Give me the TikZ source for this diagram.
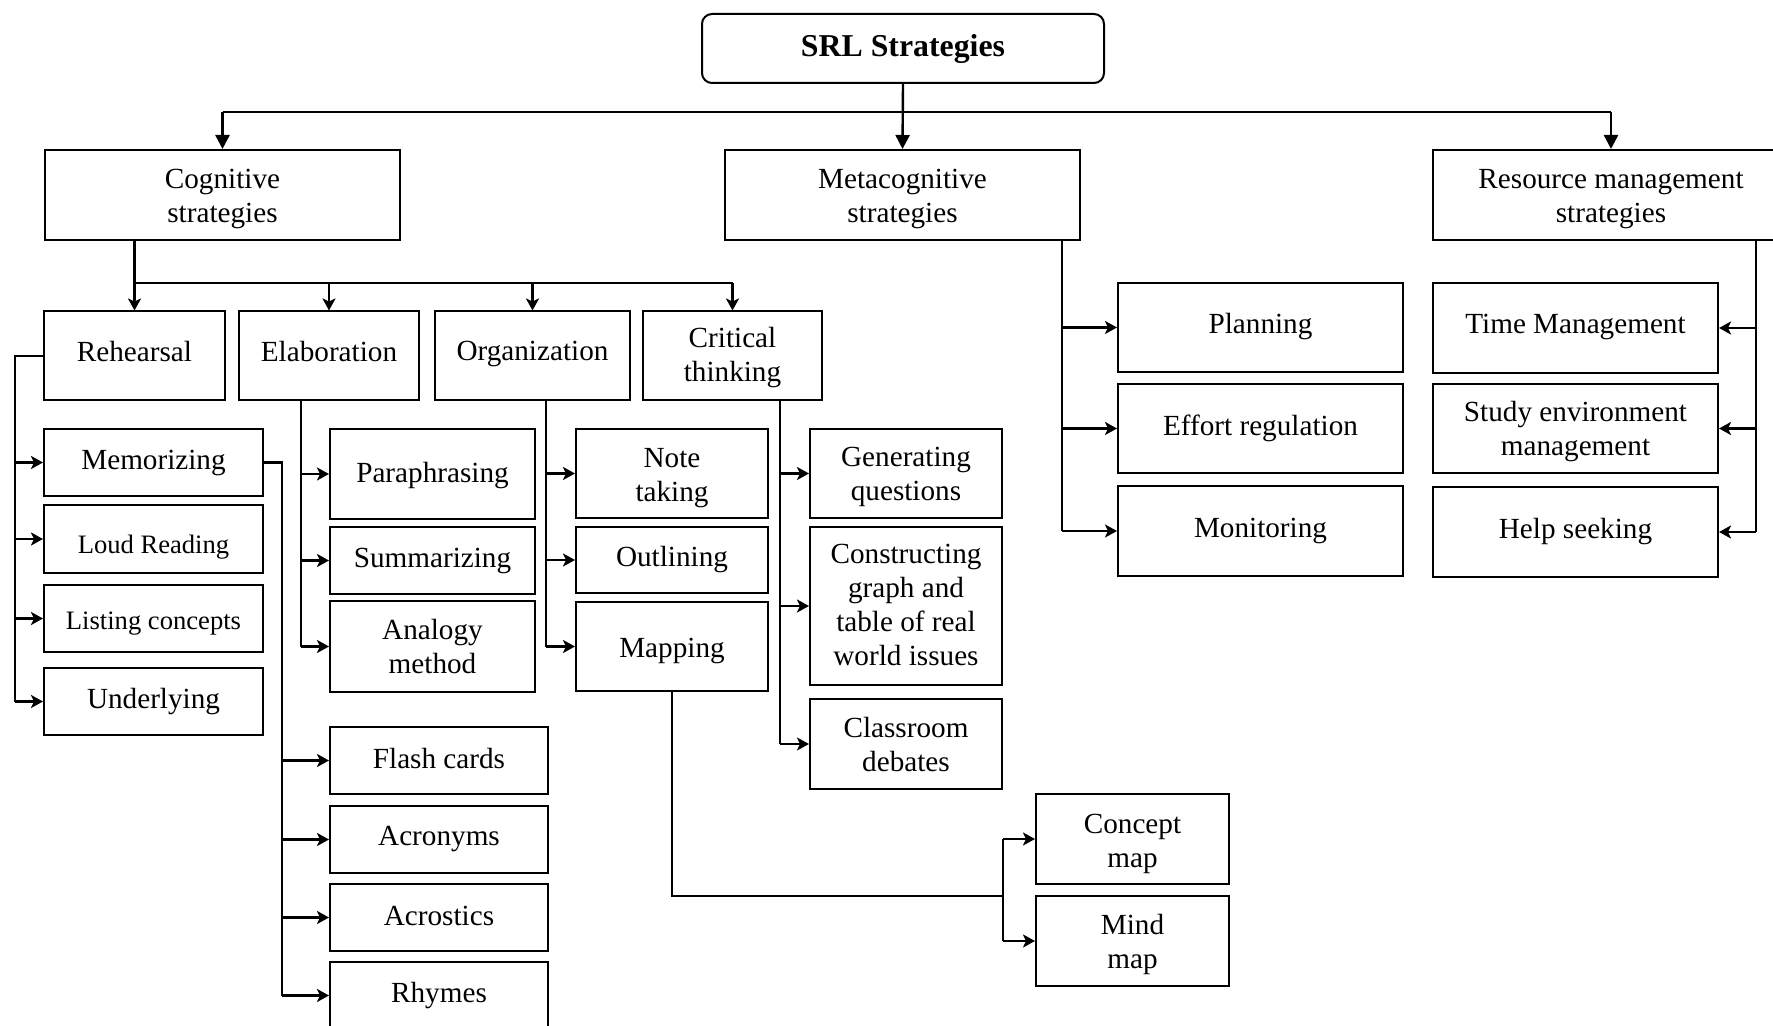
\documentclass[tikz,border=0pt]{standalone}
\usepackage{fontspec}
\setmainfont{Liberation Serif}
\usetikzlibrary{arrows.meta}
% shifted one-line and stacked labels (the outer box keeps its natural size)
\newcommand\oneln[2]{\raisebox{#1}[\height][\depth]{#2}}
\newcommand\stackln[2]{\raisebox{#1}[\height][\depth]{\begin{tabular}{@{}c@{}}#2\end{tabular}}}
\begin{document}
\begin{tikzpicture}[x=0.5pt,y=-0.5pt,
  box/.style 2 args={draw, line width=1pt, minimum width=#1*0.5pt, minimum height=#2*0.5pt,
    inner sep=0pt, align=center, font=\fontsize{14.6}{17}\selectfont},
  small/.style={font=\fontsize{13.3}{16}\selectfont},
  conn/.style={line width=1.2pt},
  arr/.style={line width=1.2pt, -{Stealth[length=6pt,width=6.5pt,inset=1.5pt]}},
  bigarr/.style={line width=1.2pt, -{Triangle[length=7pt,width=7pt]}}
]
\clip (0,0) rectangle (1773,1026);

% top level
\node[box={402}{69}, rounded corners=5pt, font=\fontsize{15.9}{18}\selectfont\bfseries] (srl) at (903,48.5) {SRL Strategies};
\node[box={355}{90}] (cog)  at (222.5,195) {\stackln{-1.7pt}{Cognitive\\strategies}};
\node[box={355}{90}] (meta) at (902.5,195) {\stackln{-1.7pt}{Metacognitive\\strategies}};
\node[box={356}{90}] (res)  at (1611,195) {\stackln{-1.7pt}{Resource management\\strategies}};

% cognitive strategies
\node[box={181}{89}] (reh)  at (134.5,356) {\oneln{2.2pt}{Rehearsal}};
\node[box={180}{89}] (ela)  at (329,356) {\oneln{2.2pt}{Elaboration}};
\node[box={195}{89}] (org)  at (532.5,356) {\oneln{1.1pt}{Organization}};
\node[box={179}{89}] (crit) at (732.5,356) {\stackln{-1pt}{Critical\\thinking}};

% rehearsal
\node[box={219}{67}] (mem)  at (153.5,462.5) {Memorizing};
\node[box={219}{67}, small] (loud) at (153.5,539) {\oneln{-4pt}{Loud Reading}};
\node[box={219}{67}, small] (list) at (153.5,618.5) {\oneln{-2.3pt}{Listing concepts}};
\node[box={219}{67}] (und)  at (153.5,701.5) {Underlying};

% memorizing
\node[box={218}{67}] (flash) at (439,760.5) {\oneln{1pt}{Flash cards}};
\node[box={218}{67}] (acro)  at (439,839.5) {Acronyms};
\node[box={218}{67}] (acst)  at (439,917.5) {\oneln{1pt}{Acrostics}};
\node[box={218}{67}] (rhy)   at (439,995.5) {Rhymes};

% elaboration
\node[box={205}{90}] (para) at (432.5,474) {\oneln{-1pt}{Paraphrasing}};
\node[box={205}{67}] (summ) at (432.5,560.5) {Summarizing};
\node[box={205}{91}] (anal) at (432.5,646.5) {\stackln{-1.6pt}{Analogy\\method}};

% organization
\node[box={192}{89}] (note) at (672,473.5) {\stackln{-2.3pt}{Note\\taking}};
\node[box={192}{66}] (outl) at (672,560) {Outlining};
\node[box={192}{89}] (mapp) at (672,646.5) {\oneln{-2.3pt}{Mapping}};

% critical thinking
\node[box={192}{89}]  (genq) at (906,473.5) {\stackln{-1.7pt}{Generating\\questions}};
\node[box={192}{158}] (cons) at (906,606) {\stackln{-1.1pt}{Constructing\\graph and\\table of real\\world issues}};
\node[box={192}{90}]  (clas) at (906,744) {\stackln{-1.6pt}{Classroom\\debates}};

% mapping
\node[box={193}{90}] (conc) at (1132.5,839) {\stackln{-2.3pt}{Concept\\map}};
\node[box={193}{90}] (mind) at (1132.5,941) {\stackln{-1.7pt}{Mind\\map}};

% metacognitive
\node[box={285}{89}] (plan) at (1260.5,327.5) {\oneln{0.5pt}{Planning}};
\node[box={285}{89}] (effo) at (1260.5,428.5) {Effort regulation};
\node[box={285}{90}] (moni) at (1260.5,531) {Monitoring};

% resource management
\node[box={285}{90}] (time) at (1575.5,328) {\oneln{0.5pt}{Time Management}};
\node[box={285}{89}] (stud) at (1575.5,428.5) {\stackln{-1.7pt}{Study environment\\management}};
\node[box={285}{90}] (help) at (1575.5,532) {Help seeking};

% bus lines and junctions
\coordinate (tbus) at (0,112);
\coordinate (cbus) at (0,283);
\coordinate (rx) at (15,0);
\coordinate (mx) at (282,0);
\coordinate (ex) at (301,0);
\coordinate (ox) at (546,0);
\coordinate (tx) at (780,0);
\coordinate (jx) at (1003,0);
\coordinate (my) at (0,896);
\coordinate (mlx) at (1062,0);
\coordinate (rlx) at (1756,0);

% top level connectors
\draw[conn] (cog.north |- tbus) -- (res.north |- tbus);
\draw[bigarr] (srl.south) -- (meta.north);
\draw[bigarr] (cog.north |- tbus) -- (cog.north);
\draw[bigarr] (res.north |- tbus) -- (res.north);

% cognitive connectors
\draw[conn] (cog.south -| reh) -- (reh |- cbus) -- (crit |- cbus);
\foreach \n in {reh,ela,org,crit} \draw[arr] (\n |- cbus) -- (\n.north);

% rehearsal connectors
\draw[conn] (reh.west) -- (reh.west -| rx) -- (und.west -| rx);
\foreach \n in {mem,loud,list,und} \draw[arr] (\n.west -| rx) -- (\n.west);

% memorizing connectors
\draw[conn] (mem.east) -- (mem.east -| mx) -- (rhy.west -| mx);
\foreach \n in {flash,acro,acst,rhy} \draw[arr] (\n.west -| mx) -- (\n.west);

% elaboration connectors
\draw[conn] (ela.south -| ex) -- (anal.west -| ex);
\foreach \n in {para,summ,anal} \draw[arr] (\n.west -| ex) -- (\n.west);

% organization connectors
\draw[conn] (org.south -| ox) -- (mapp.west -| ox);
\foreach \n in {note,outl,mapp} \draw[arr] (\n.west -| ox) -- (\n.west);

% critical thinking connectors
\draw[conn] (crit.south -| tx) -- (clas.west -| tx);
\foreach \n in {genq,cons,clas} \draw[arr] (\n.west -| tx) -- (\n.west);

% mapping connectors
\draw[conn] (mapp.south) -- (mapp.south |- my) -- (jx |- my);
\draw[conn] (conc.west -| jx) -- (mind.west -| jx);
\foreach \n in {conc,mind} \draw[arr] (\n.west -| jx) -- (\n.west);

% metacognitive connectors
\draw[conn] (meta.south -| mlx) -- (moni.west -| mlx);
\foreach \n in {plan,effo,moni} \draw[arr] (\n.west -| mlx) -- (\n.west);

% resource management connectors
\draw[conn] (res.south -| rlx) -- (help.east -| rlx);
\foreach \n in {time,stud,help} \draw[arr] (\n.east -| rlx) -- (\n.east);
\end{tikzpicture}
\end{document}
